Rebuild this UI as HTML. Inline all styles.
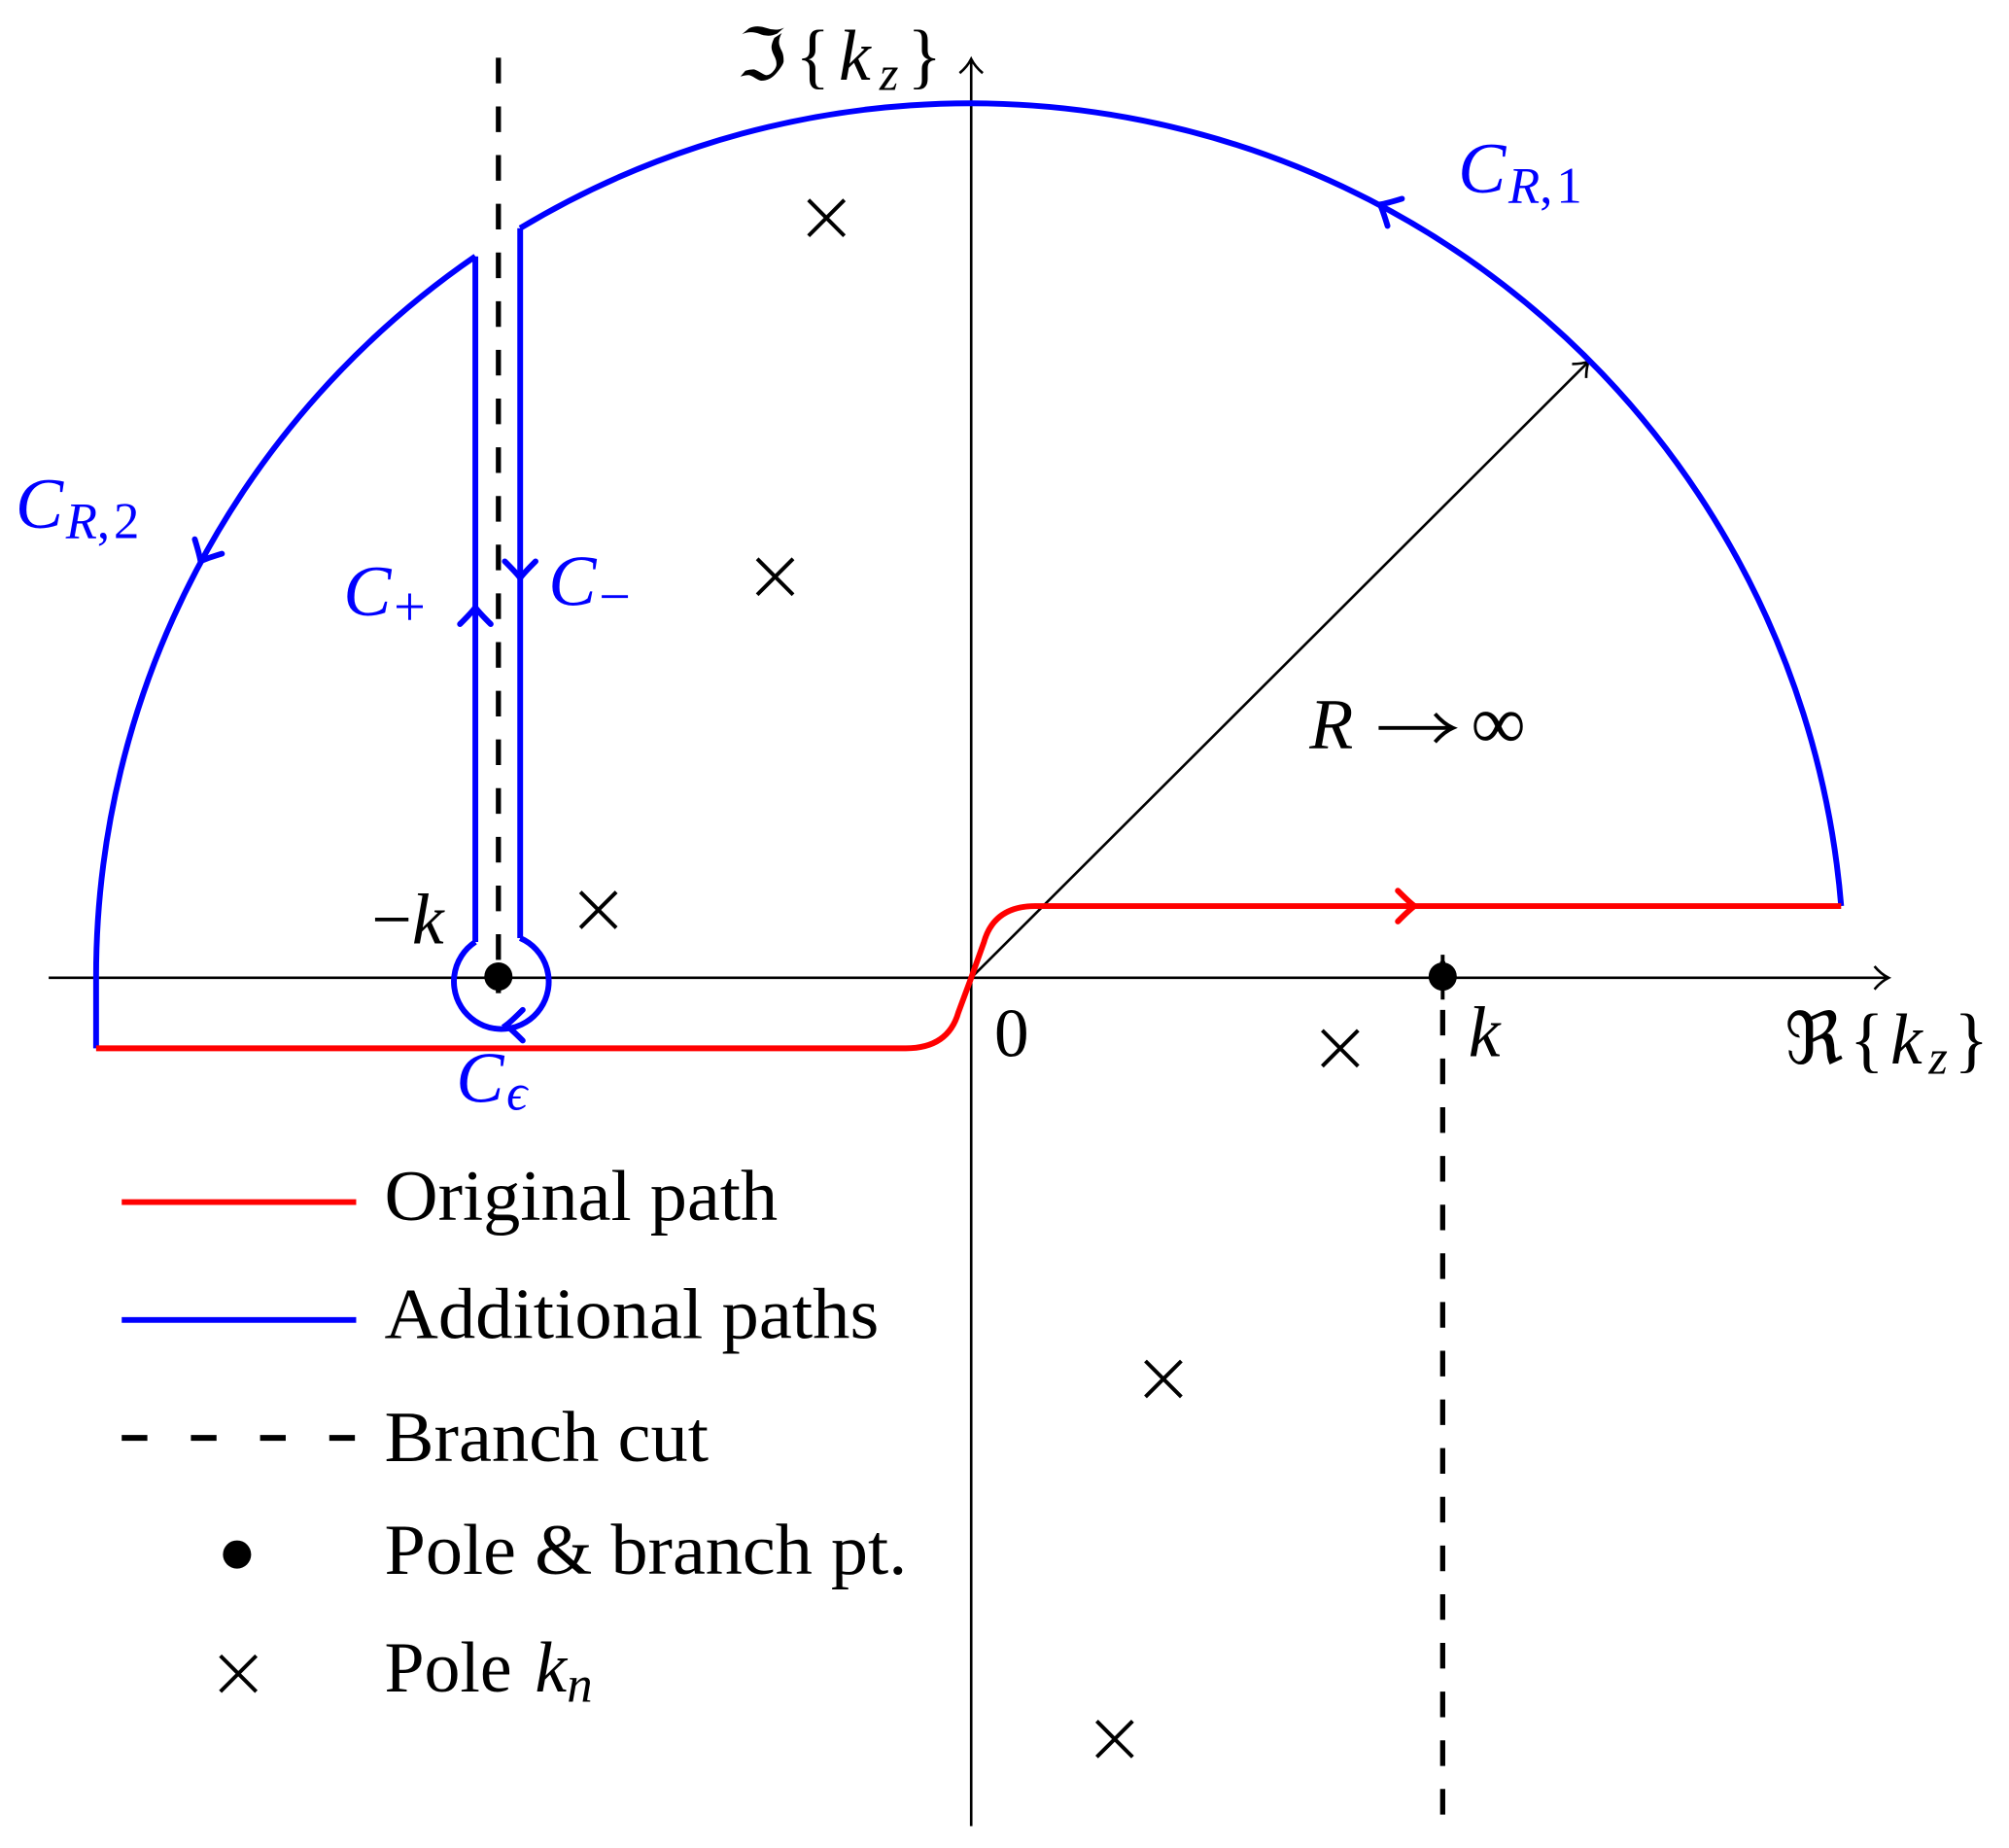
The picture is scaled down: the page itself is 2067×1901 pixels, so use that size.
<!DOCTYPE html>
<html><head><meta charset="utf-8"><style>
html,body{margin:0;padding:0;background:#fff;}
svg{display:block;}
text{font-family:"Liberation Serif",serif;}
</style></head><body>
<svg width="2067" height="1901" viewBox="0 0 1568 1442" xmlns="http://www.w3.org/2000/svg">
<defs>
<path id="ah" d="M -12 -12 Q -3 -3 1 0 Q -3 3 -12 12" fill="none" stroke-width="4.5" stroke-linecap="round"/>
</defs>
<line x1="389" y1="45" x2="389" y2="775" stroke="#000" stroke-width="4" stroke-dasharray="20,18"/>
<line x1="1126" y1="750" x2="1126" y2="1425" stroke="#000" stroke-width="4" stroke-dasharray="20,18"/>
<line x1="38" y1="763" x2="1473" y2="763" stroke="#000" stroke-width="2"/>
<path d="M1463 754 Q1468 760 1474 763 Q1468 766 1463 772" fill="none" stroke="#000" stroke-width="2"/>
<line x1="758" y1="1425" x2="758" y2="47" stroke="#000" stroke-width="2"/>
<path d="M749 57 Q755 52 758 46 Q761 52 767 57" fill="none" stroke="#000" stroke-width="2"/>
<line x1="758" y1="763" x2="1240" y2="282" stroke="#000" stroke-width="2"/>
<path d="M1227 284 Q1235 284 1240 282 Q1238 287 1238 295" fill="none" stroke="#000" stroke-width="2"/>
<g fill="none" stroke="#0000ff" stroke-width="4.5">
<path d="M1437 707 A682 682 0 0 0 406 178"/>
<path d="M371 200 A682 682 0 0 0 75 763 L75 818"/>
<line x1="371" y1="200" x2="371" y2="735"/>
<line x1="406" y1="178" x2="406" y2="732"/>
<path d="M371 735 A37 37 0 1 0 406 732"/>
</g>
<path d="M75 818 L707 818 Q740 818 748 790 L758 763 L768 735 Q776 707 808 707 L1437 707" fill="none" stroke="#ff0000" stroke-width="4.5"/>
<use href="#ah" stroke="#0000ff" transform="translate(1078,160) rotate(208)"/>
<use href="#ah" stroke="#0000ff" transform="translate(157,437) rotate(118)"/>
<use href="#ah" stroke="#0000ff" transform="translate(371,475) rotate(-90)"/>
<use href="#ah" stroke="#0000ff" transform="translate(406,450) rotate(90)"/>
<use href="#ah" stroke="#0000ff" transform="translate(396,800) rotate(180)"/>
<use href="#ah" stroke="#ff0000" transform="translate(1103,707) rotate(0)"/>
<circle cx="389" cy="762" r="11" fill="#000"/>
<circle cx="1126" cy="762" r="11" fill="#000"/>
<line x1="1126" y1="745" x2="1126" y2="780" stroke="#000" stroke-width="3"/>
<g stroke="#000" stroke-width="3">
<path d="M631 156 L659 184 M659 156 L631 184"/>
<path d="M591 436 L619 464 M619 436 L591 464"/>
<path d="M453 696 L481 724 M481 696 L453 724"/>
<path d="M1032 804 L1060 832 M1060 804 L1032 832"/>
<path d="M894 1062 L922 1090 M922 1062 L894 1090"/>
<path d="M856 1343 L884 1371 M884 1343 L856 1371"/>
<path d="M172 1292 L200 1320 M200 1292 L172 1320"/>
</g>
<g fill="#0000ff" font-style="italic">
<text x="1138" y="150" font-size="56">C<tspan font-size="40" dy="8" dx="2">R</tspan><tspan font-style="normal" font-size="40" letter-spacing="3">,1</tspan></text>
<text x="12" y="412" font-size="56">C<tspan font-size="40" dy="8" dx="2">R</tspan><tspan font-style="normal" font-size="40" letter-spacing="3">,2</tspan></text>
<text x="268" y="480" font-size="56">C<tspan font-style="normal" font-size="44" dy="8" dx="2">+</tspan></text>
<text x="428" y="472" font-size="56">C<tspan font-style="normal" font-size="44" dy="8" dx="2">−</tspan></text>
<text x="356" y="860" font-size="56">C<tspan font-size="40" dy="6" dx="2">ϵ</tspan></text>
</g>
<g fill="#000">
<text x="290" y="736" font-size="56"><tspan font-style="normal">−</tspan><tspan font-style="italic">k</tspan></text>
<text x="776" y="824" font-size="54">0</text>
<text x="1146" y="824" font-size="56" font-style="italic">k</text>
<text x="1022" y="584" font-size="56" font-style="italic">R</text>
<line x1="1076" y1="568" x2="1132" y2="568" stroke="#000" stroke-width="3"/>
<path d="M1120 557 Q1127 565 1134 568 Q1127 571 1120 579" fill="none" stroke="#000" stroke-width="3"/>
<text x="1148" y="584" font-size="60">∞</text>
<text x="575" y="62" font-size="56" textLength="160" lengthAdjust="spacing">ℑ{<tspan font-style="italic">k</tspan><tspan font-style="italic" font-size="38" dy="8">z</tspan><tspan dy="-8">}</tspan></text>
<text x="1393" y="830" font-size="56" textLength="159" lengthAdjust="spacing">ℜ{<tspan font-style="italic">k</tspan><tspan font-style="italic" font-size="38" dy="8">z</tspan><tspan dy="-8">}</tspan></text>
</g>
<line x1="95" y1="938" x2="278" y2="938" stroke="#ff0000" stroke-width="4.5"/>
<line x1="95" y1="1030" x2="278" y2="1030" stroke="#0000ff" stroke-width="4.5"/>
<line x1="95" y1="1122" x2="278" y2="1122" stroke="#000" stroke-width="4.5" stroke-dasharray="20,34"/>
<circle cx="185" cy="1213" r="11" fill="#000"/>
<g fill="#000" font-size="56">
<text x="300" y="952" textLength="307" lengthAdjust="spacingAndGlyphs">Original path</text>
<text x="300" y="1044" textLength="386" lengthAdjust="spacingAndGlyphs">Additional paths</text>
<text x="300" y="1140" textLength="253" lengthAdjust="spacingAndGlyphs">Branch cut</text>
<text x="300" y="1228" textLength="408" lengthAdjust="spacingAndGlyphs">Pole &amp; branch pt.</text>
<text x="300" y="1320">Pole <tspan font-style="italic" dx="4">k</tspan><tspan font-style="italic" font-size="40" dy="8">n</tspan></text>
</g>
</svg>
</body></html>
